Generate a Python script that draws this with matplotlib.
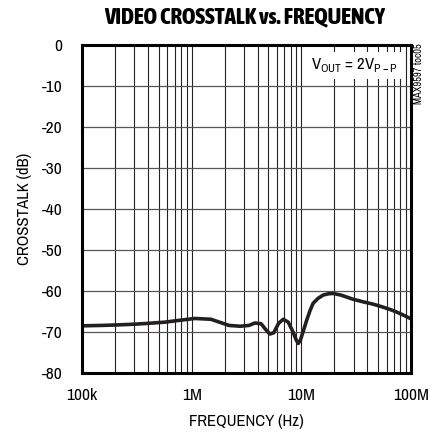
import numpy as np
import matplotlib
matplotlib.use('Agg')
from matplotlib import pyplot as plt
from matplotlib import font_manager
from matplotlib.ticker import FixedLocator, NullFormatter

# fuente estrecha si existe
nombres = set(f.name for f in font_manager.fontManager.ttflist)
estrecha = [n for n in ['Archivo Narrow', 'Liberation Sans Narrow'] if n in nombres]
plt.rcParams['font.family'] = estrecha[:1] + ['Liberation Sans', 'DejaVu Sans']
titulo_fuente = [n for n in ['Asap Condensed'] if n in nombres] + ['Liberation Sans']

# Frecuencia (Hz) y crosstalk (dB)
freq = [1.0e5, 1.5e5, 2.0e5, 3.0e5, 4.0e5, 5.7e5, 7.5e5, 1.07e6, 1.5e6, 2.19e6,
        2.76e6, 3.33e6, 3.78e6, 4.3e6, 4.8e6, 5.17e6, 5.6e6, 6.2e6, 6.84e6,
        7.6e6, 8.4e6, 9.0e6, 9.38e6, 9.8e6, 1.05e7, 1.12e7, 1.2e7, 1.28e7,
        1.42e7, 1.58e7, 1.75e7, 1.94e7, 2.3e7, 2.95e7, 3.6e7, 4.5e7, 5.5e7,
        6.43e7, 7.5e7, 8.7e7, 1.0e8]
crosstalk = [-68.5, -68.4, -68.3, -68.1, -67.9, -67.6, -67.2, -66.7, -66.9, -68.4,
             -68.6, -68.4, -67.8, -68.0, -69.6, -70.5, -70.2, -67.9, -66.9,
             -67.6, -70.0, -72.0, -72.8, -72.0, -69.5, -67.1, -64.8, -63.0,
             -61.8, -61.0, -60.7, -60.6, -61.0, -62.0, -62.6, -63.2, -63.9,
             -64.5, -65.2, -66.0, -66.8]

ylabels = ['0', '-10', '-20', '-30', '-40', '-50', '-60', '-70', '-80']
yticks = [0, -10, -20, -30, -40, -50, -60, -70, -80]
xticks = [1e5, 1e6, 1e7, 1e8]
xlabels = ['100k', '1M', '10M', '100M']

fig = plt.figure(figsize=(4.30, 4.34), dpi=100)
ax = fig.add_axes([0.1907, 0.1406, 0.7651, 0.7557])

ax.set_xscale('log')
ax.set_xlim(1e5, 1e8)
ax.set_ylim(-80, 0)

# Rejilla
minors = [m * 10 ** d for d in range(5, 8) for m in range(2, 10)]
for f in minors + xticks:
    ax.axvline(f, color='#222222', lw=0.8, zorder=1)
for y in yticks:
    ax.axhline(y, color='#555555', lw=0.9, zorder=1)

ax.plot(freq, crosstalk, color='#231f20', lw=2.6, solid_capstyle='round', zorder=3)

ax.set_xticks(xticks)
ax.set_xticklabels(xlabels)
ax.xaxis.set_minor_locator(FixedLocator(minors))
ax.xaxis.set_minor_formatter(NullFormatter())
ax.set_yticks(yticks)
ax.set_yticklabels(ylabels)
ax.tick_params(which='both', length=0, labelsize=12.5)
ax.tick_params(axis='y', pad=14)
ax.tick_params(axis='x', pad=11)

for s in ax.spines.values():
    s.set_linewidth(2.2)
    s.set_zorder(4)

ax.set_xlabel('FREQUENCY (Hz)', fontsize=12, labelpad=8)
ax.set_ylabel('CROSSTALK (dB)', fontsize=12, labelpad=7)
fig.text(0.569, 0.96, 'VIDEO CROSSTALK vs. FREQUENCY', ha='center', va='center',
         fontsize=16.5, fontweight=800, family=titulo_fuente)

ax.text(0.96, 0.965, r'V$_{\mathregular{OUT}}$ = 2V$_{\mathregular{P-P}}$', transform=ax.transAxes,
        ha='right', va='top', fontsize=12, zorder=5,
        bbox=dict(boxstyle='square,pad=0.25', fc='white', ec='none'))
fig.text(0.974, 0.9, 'MAX9597 toc05', rotation=90, ha='center', va='top', fontsize=7.5)

fig.savefig('out.png', dpi=100)
